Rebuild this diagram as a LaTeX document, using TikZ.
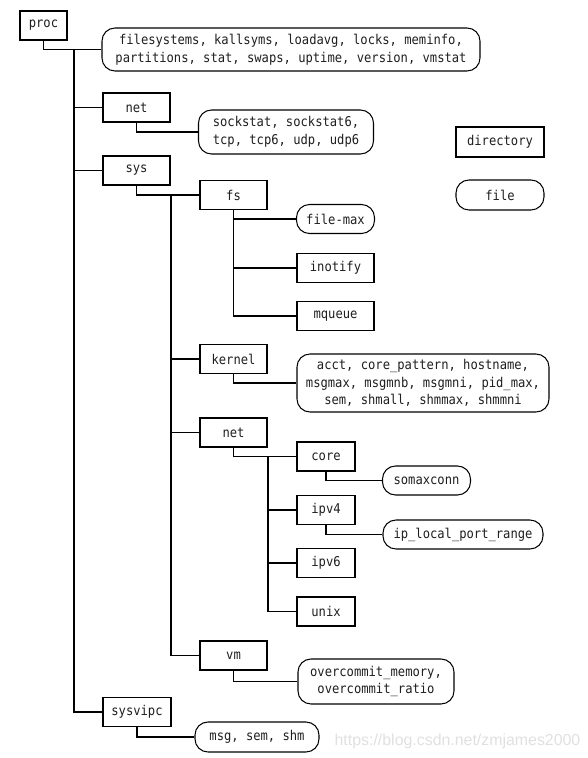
\documentclass[tikz,border=0pt]{standalone}
\usepackage{fontspec}
\newfontfamily\codefont[FakeStretch=0.90]{DejaVu Sans Mono}
\newfontfamily\markfont{Liberation Sans}
\begin{document}
\begin{tikzpicture}[x=1pt,y=-1pt,
  base/.style={draw, line width=1.05pt, inner sep=0pt, align=center, text=black!88,
    font=\codefont\fontsize{13.5}{17.5}\selectfont},
  dirbox/.style={base, minimum height=29pt},
  filebox/.style={base, rounded corners=13pt, minimum height=29pt},
  link/.style={line width=1.05pt}]
\useasboundingbox (0,0) rectangle (588,758);

% directories
\node[dirbox, minimum width=47pt] (proc) at (43.5,25.5) {proc};
\node[dirbox, minimum width=67pt] (net) at (136.5,107.5) {net};
\node[dirbox, minimum width=67pt] (sys) at (136.5,170.5) {sys};
\node[dirbox, minimum width=67pt] (fs) at (233.5,195) {fs};
\node[dirbox, minimum width=77pt] (inotify) at (335.5,268) {inotify};
\node[dirbox, minimum width=77pt] (mqueue) at (335.5,316) {mqueue};
\node[dirbox, minimum width=67pt] (kernel) at (233.5,359) {kernel};
\node[dirbox, minimum width=67pt] (net2) at (233.5,432.5) {net};
\node[dirbox, minimum width=58pt] (core) at (326,456.5) {core};
\node[dirbox, minimum width=58pt] (ipv4) at (326,510) {ipv4};
\node[dirbox, minimum width=58pt] (ipv6) at (326,563) {ipv6};
\node[dirbox, minimum width=58pt] (unix) at (326,611.5) {unix};
\node[dirbox, minimum width=67pt] (vm) at (233.5,655.5) {vm};
\node[dirbox, minimum width=68pt] (sysvipc) at (137,712) {sysvipc};

% files
\node[filebox, minimum width=378pt, minimum height=43pt] (files) at (291,49.5)
  {filesystems, kallsyms, loadavg, locks, meminfo,\\partitions, stat, swaps, uptime, version, vmstat};
\node[filebox, minimum width=175pt, minimum height=44pt] (sock) at (286,132)
  {sockstat, sockstat6,\\tcp, tcp6, udp, udp6};
\node[filebox, minimum width=78pt] (filemax) at (335.5,219) {file-max};
\node[filebox, minimum width=252pt, minimum height=58pt] (acct) at (423,383)
  {acct, core\_pattern, hostname,\\msgmax, msgmnb, msgmni, pid\_max,\\sem, shmall, shmmax, shmmni};
\node[filebox, minimum width=88pt] (soma) at (426.5,480.5) {somaxconn};
\node[filebox, minimum width=160pt] (iplocal) at (463,534.5) {ip\_local\_port\_range};
\node[filebox, minimum width=156pt, minimum height=45pt] (overc) at (376,681.5)
  {overcommit\_memory,\\overcommit\_ratio};
\node[filebox, minimum width=124pt, minimum height=30pt] (msg) at (257,737) {msg, sem, shm};

% legend
\node[dirbox, minimum width=88pt, minimum height=30pt] (ldir) at (500,142) {directory};
\node[filebox, minimum width=88pt, minimum height=30pt] (lfile) at (500,195) {file};

% connectors
\coordinate (t1) at (74,50);
\draw[link] (proc.south) |- (files.west);
\draw[link] (t1) |- (sysvipc.west);
\draw[link] (t1 |- net.west) -- (net.west);
\draw[link] (t1 |- sys.west) -- (sys.west);
\draw[link] (net.south) |- (sock.west);

\coordinate (t2) at (171,195);
\draw[link] (sys.south) |- (fs.west);
\draw[link] (t2) |- (vm.west);
\draw[link] (t2 |- kernel.west) -- (kernel.west);
\draw[link] (t2 |- net2.west) -- (net2.west);

\draw[link] (fs.south) |- (filemax.west);
\draw[link] (fs.south) |- (mqueue.west);
\draw[link] (fs.south |- inotify.west) -- (inotify.west);

\draw[link] (kernel.south) |- (acct.west);

\coordinate (t4) at (268,456.5);
\draw[link] (net2.south) |- (core.west);
\draw[link] (t4) |- (unix.west);
\draw[link] (t4 |- ipv4.west) -- (ipv4.west);
\draw[link] (t4 |- ipv6.west) -- (ipv6.west);
\draw[link] (core.south) |- (soma.west);
\draw[link] (ipv4.south) |- (iplocal.west);

\draw[link] (vm.south) |- (overc.west);
\draw[link] (sysvipc.south) |- (msg.west);

% watermark
\node[text=black!12, font=\markfont\fontsize{15.9}{18}\selectfont, inner sep=0pt] (wm) at (457.5,741) {https://blog.csdn.net/zmjames2000};
\end{tikzpicture}
\end{document}
